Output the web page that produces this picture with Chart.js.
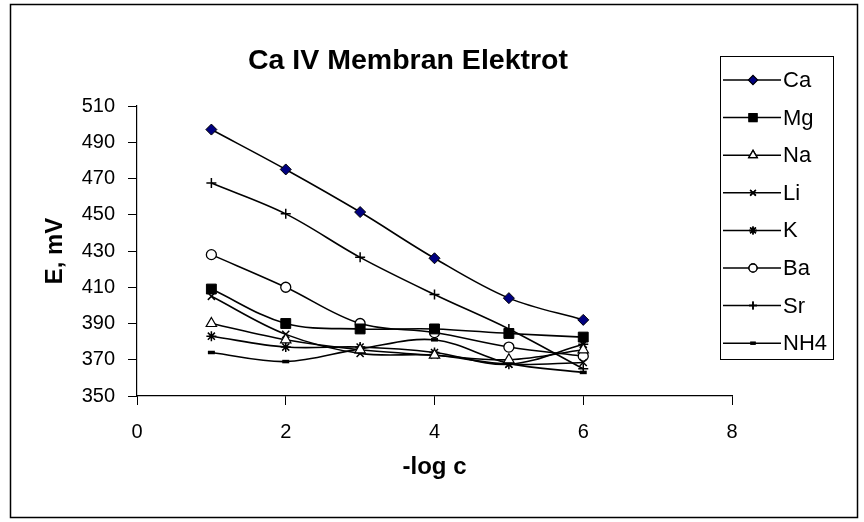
<!DOCTYPE html>
<html>
<head>
<meta charset="utf-8">
<script src="https://cdn.jsdelivr.net/npm/chart.js"></script>
<style>
  html, body { margin: 0; padding: 0; background: #fff; }
  #wrap { width: 864px; height: 522px; }
</style>
</head>
<body>
<div id="wrap"><canvas id="chart" width="864" height="522"></canvas></div>
<script>
// -log c degerleri
const logC = [1, 2, 3, 4, 5, 6];
const xTicks = [0, 2, 4, 6, 8];
const yTicks = [350, 370, 390, 410, 430, 450, 470, 490, 510];

// iyon serileri (mV)
const ca  = [497, 475, 451.5, 426, 404, 392];
const mg  = [409, 390, 387, 387, 384.5, 382.5];
const na  = [390, 381, 375.5, 372.5, 370, 375.5];
const li  = [405, 384, 373.5, 372.5, 367.5, 368.5];
const k   = [383, 377, 377, 374, 367.5, 378.5];
const ba  = [428, 410, 390, 385, 377, 372];
const sr  = [467.5, 450.5, 426.5, 406, 387, 365];
const nh4 = [374, 369, 376, 381, 368, 363];

const FONT = "'Liberation Sans', Arial, sans-serif";

function seri(label, values, style, radius, fill, bw) {
    return {
        label: label,
        data: values.map((v, i) => ({ x: logC[i], y: v })),
        borderColor: '#000',
        borderWidth: 1.6,
        tension: 0.35,
        fill: false,
        pointStyle: style,
        pointRadius: radius,
        pointHoverRadius: radius,
        pointBackgroundColor: fill,
        pointBorderColor: '#000',
        pointBorderWidth: bw
    };
}

const datasets = [
    seri('Ca', ca, 'rectRot', 5.5, '#000080', 1),
    seri('Mg', mg, 'rect', 7, '#000', 1),
    seri('Na', na, 'triangle', 6, '#fff', 1.2),
    seri('Li', li, 'crossRot', 5, '#000', 1.5),
    seri('K', k, 'star', 5, '#000', 1.5),
    seri('Ba', ba, 'circle', 5, '#fff', 1.3),
    seri('Sr', sr, 'cross', 5, '#000', 1.5),
    seri('NH4', nh4, 'line', 3.5, '#000', 3.5)
];

// cerceve, baslik ve lejant
const excelPlugin = {
    id: 'excel',
    beforeDraw(chart) {
        const ctx = chart.ctx;
        ctx.save();
        ctx.fillStyle = '#fff';
        ctx.fillRect(0, 0, chart.width, chart.height);
        ctx.restore();
    },
    afterDraw(chart) {
        const ctx = chart.ctx;
        ctx.save();
        ctx.strokeStyle = '#000';
        ctx.lineWidth = 1.5;
        ctx.strokeRect(10.5, 4.5, 847, 513);

        // baslik
        const title = 'Ca IV Membran Elektrot';
        ctx.fillStyle = '#000';
        ctx.font = 'bold 27px ' + FONT;
        ctx.textAlign = 'center';
        ctx.textBaseline = 'middle';
        const w = ctx.measureText(title).width;
        ctx.save();
        ctx.translate(408, 62);
        ctx.scale(320 / w, 1);
        ctx.fillText(title, 0, 0);
        ctx.restore();

        // lejant kutusu
        ctx.lineWidth = 1;
        ctx.strokeRect(720.5, 56.5, 113, 303);
        ctx.font = '22px ' + FONT;
        ctx.textAlign = 'left';
        chart.data.datasets.forEach((ds, i) => {
            const y = 80 + i * 37.6;
            ctx.beginPath();
            ctx.strokeStyle = '#000';
            ctx.lineWidth = 1.5;
            ctx.moveTo(723, y);
            ctx.lineTo(781, y);
            ctx.stroke();
            Chart.helpers.drawPoint(ctx, {
                pointStyle: ds.pointStyle,
                radius: ds.pointRadius * 0.8,
                rotation: 0,
                borderWidth: ds.pointBorderWidth
            }, 753, y);
            ctx.fillStyle = ds.pointBackgroundColor;
            ctx.strokeStyle = '#000';
            ctx.lineWidth = ds.pointBorderWidth;
            ctx.fill();
            ctx.stroke();
            ctx.fillStyle = '#000';
            ctx.fillText(ds.label, 783, y + 1);
        });
        ctx.restore();
    }
};

new Chart(document.getElementById('chart'), {
    type: 'line',
    data: { datasets: datasets },
    plugins: [excelPlugin],
    options: {
        responsive: false,
        animation: false,
        layout: { padding: { left: 0, top: 106, right: 132, bottom: 26 } },
        plugins: {
            legend: { display: false },
            title: { display: false },
            tooltip: { enabled: false }
        },
        scales: {
            x: {
                type: 'linear',
                min: xTicks[0],
                max: xTicks[xTicks.length - 1],
                afterBuildTicks: s => { s.ticks = xTicks.map(v => ({ value: v })); },
                afterFit: s => { s.height = 100; },
                ticks: { color: '#000', font: { family: FONT, size: 20 }, padding: 15, maxRotation: 0 },
                grid: { drawOnChartArea: false, color: '#000', tickLength: 9, tickWidth: 1 },
                border: { color: '#000', width: 1.2 },
                title: { display: true, text: '-log c', color: '#000', font: { family: FONT, size: 24, weight: 'bold' }, padding: { top: 0, bottom: 14 } }
            },
            y: {
                type: 'linear',
                min: yTicks[0],
                max: yTicks[yTicks.length - 1],
                afterBuildTicks: s => { s.ticks = yTicks.map(v => ({ value: v })); },
                afterFit: s => { s.width = 137; },
                ticks: { color: '#000', font: { family: FONT, size: 20 }, padding: 13 },
                grid: { drawOnChartArea: false, color: '#000', tickLength: 9, tickWidth: 1 },
                border: { color: '#000', width: 1.2 },
                title: { display: true, text: 'E, mV', color: '#000', font: { family: FONT, size: 24, weight: 'bold' }, padding: { top: 41, bottom: 0 } }
            }
        }
    }
});
</script>
</body>
</html>
